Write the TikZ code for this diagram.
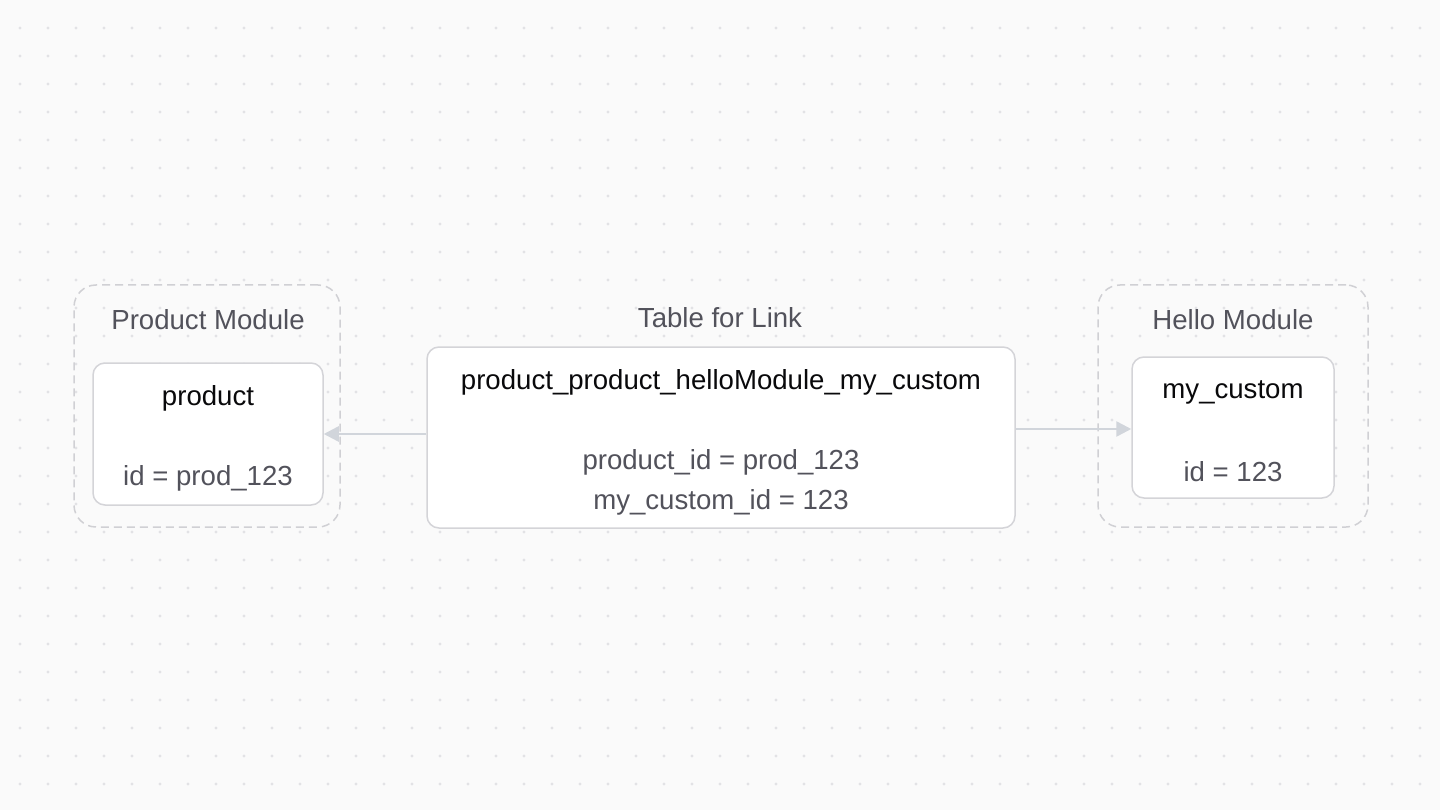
\documentclass[tikz,border=0pt]{standalone}
\usepackage{fontspec}
\setmainfont{Liberation Sans}
\usetikzlibrary{arrows.meta}
\definecolor{bg}{HTML}{FAFAFA}
\definecolor{dotc}{HTML}{E2E2E5}
\definecolor{boxline}{HTML}{D4D4D8}
\definecolor{dashline}{HTML}{D0D0D4}
\definecolor{arrc}{HTML}{D1D5DB}
\definecolor{labelc}{HTML}{52525B}
\definecolor{titlec}{HTML}{09090B}
\tikzset{
  card/.style={draw=boxline, line width=1.5pt, fill=white, rounded corners=12pt, inner sep=0pt},
  module/.style={draw=dashline, line width=1.5pt, dash pattern=on 8pt off 5pt, rounded corners=22pt, inner sep=0pt},
  lbl/.style={text=labelc, font=\fontsize{27.6}{33}\selectfont, inner sep=0pt},
  ttl/.style={text=titlec, font=\fontsize{27.6}{33}\selectfont, inner sep=0pt},
  arr/.style={draw=arrc, line width=2.5pt, -{Triangle[length=15pt,width=15pt]}},
}
\begin{document}
\begin{tikzpicture}[x=1pt,y=-1pt]
\fill[bg] (0,0) rectangle (1440,810);
\useasboundingbox (0,0) rectangle (1440,810);
\foreach \i in {20,48,...,1440}{
  \foreach \j in {28,56,...,810}{
    \fill[dotc] (\i,\j) circle (1.6pt);
  }
}
% modules
\node[module, minimum width=266pt, minimum height=242pt] (pmod) at (207,406) {};
\node[module, minimum width=270pt, minimum height=242pt] (hmod) at (1233,406) {};
% cards
\node[card, minimum width=230pt, minimum height=142pt] (prod) at (208,434) {};
\node[card, minimum width=588pt, minimum height=181pt] (mid) at (721,437.5) {};
\node[card, minimum width=202pt, minimum height=141pt] (hello) at (1233,427.5) {};
% labels
\node[lbl] (pmodl) at (208,320) {Product Module};
\node[lbl] (midl) at (720,318) {Table for Link};
\node[lbl] (hmodl) at (1233,320) {Hello Module};
% card texts
\node[ttl] (prodt) at (208,398) {product};
\node[lbl] (prodid) at (208,478) {id = prod\_123};
\node[ttl] (midt) at (721,382) {product\_product\_helloModule\_my\_custom};
\node[lbl] (mid1) at (721,462) {product\_id = prod\_123};
\node[lbl] (mid2) at (721,502) {my\_custom\_id = 123};
\node[ttl] (hellot) at (1233,392) {my\_custom};
\node[lbl] (helloid) at (1233,472) {id = 123};
% arrows
\draw[arr] (mid.west |- prod.east) -- (prod.east);
\draw[arr] ([yshift=-1.5pt]mid.east |- hello.west) -- ([yshift=-1.5pt]hello.west);
\end{tikzpicture}
\end{document}
